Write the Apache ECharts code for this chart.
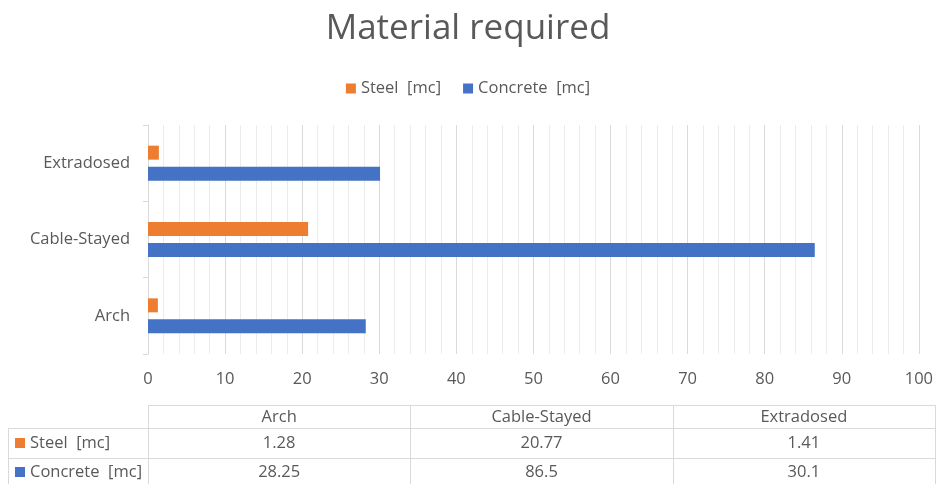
<!DOCTYPE html>
<html>
<head>
<meta charset="utf-8">
<script src="https://cdn.jsdelivr.net/npm/echarts@6/dist/echarts.min.js"></script>
<style>
  html, body { margin: 0; padding: 0; background: #fff; }
  #main { width: 936px; height: 484px; }
</style>
</head>
<body>
<div id="main"></div>
<script>
// data
var categories = ['Arch', 'Cable-Stayed', 'Extradosed'];
var steel = [1.28, 20.77, 1.41];
var concrete = [28.25, 86.5, 30.1];
var seriesNames = ['Steel  [mc]', 'Concrete  [mc]'];
var colors = ['#ED7D31', '#4472C4'];

var font = '"Open Sans", "Noto Sans", sans-serif';
var grey = '#595959';
var lineGrey = '#d9d9d9';

// data table under the chart (graphic elements)
var tblLeft = 148, tblRight = 935, labelLeft = 8;
var rowTops = [405, 428, 458, 488];
var colW = (tblRight - tblLeft) / categories.length;
var rows = [steel, concrete];
var tblFont = '16.5px ' + font;

var table = [];
// header row box
table.push({ type: 'rect', shape: { x: tblLeft + 0.5, y: rowTops[0] + 0.5, width: tblRight - tblLeft, height: rowTops[1] - rowTops[0] },
  style: { fill: null, stroke: lineGrey, lineWidth: 1 } });
// data rows boxes
for (var r = 0; r < rows.length; r++) {
  table.push({ type: 'rect', shape: { x: labelLeft + 0.5, y: rowTops[r + 1] + 0.5, width: tblRight - labelLeft, height: rowTops[r + 2] - rowTops[r + 1] },
    style: { fill: null, stroke: lineGrey, lineWidth: 1 } });
}
// column separators
for (var c = 0; c <= categories.length; c++) {
  var x = Math.round(tblLeft + c * colW) + 0.5;
  table.push({ type: 'line', shape: { x1: x, y1: rowTops[0], x2: x, y2: rowTops[3] },
    style: { stroke: lineGrey, lineWidth: 1 } });
}
table.push({ type: 'line', shape: { x1: labelLeft + 0.5, y1: rowTops[1], x2: labelLeft + 0.5, y2: rowTops[3] },
  style: { stroke: lineGrey, lineWidth: 1 } });
// header texts
categories.forEach(function (cat, i) {
  table.push({ type: 'text', x: tblLeft + (i + 0.5) * colW, y: (rowTops[0] + rowTops[1]) / 2 + 1,
    style: { text: cat, fill: grey, font: tblFont, textAlign: 'center', textVerticalAlign: 'middle' } });
});
// row labels + values
rows.forEach(function (vals, r) {
  var cy = (rowTops[r + 1] + rowTops[r + 2]) / 2 - (r === 1 ? 1 : 0);
  table.push({ type: 'rect', shape: { x: 15, y: cy - 5, width: 10, height: 10 }, style: { fill: colors[r] } });
  table.push({ type: 'text', x: 30, y: cy, style: { text: seriesNames[r], fill: grey, font: tblFont, textVerticalAlign: 'middle' } });
  vals.forEach(function (v, i) {
    table.push({ type: 'text', x: tblLeft + (i + 0.5) * colW, y: cy,
      style: { text: String(v), fill: grey, font: tblFont, textAlign: 'center', textVerticalAlign: 'middle' } });
  });
});

var chart = echarts.init(document.getElementById('main'));
chart.setOption({
  animation: false,
  title: {
    text: 'Material required',
    left: 'center',
    top: 7,
    textStyle: { color: grey, fontSize: 35, fontWeight: 'normal', fontFamily: font }
  },
  legend: {
    data: seriesNames,
    top: 75,
    left: 'center',
    itemWidth: 10,
    itemHeight: 10,
    itemGap: 22,
    icon: 'rect',
    textStyle: { color: grey, fontSize: 16.5, fontFamily: font }
  },
  grid: { left: 148, right: 15, top: 125, bottom: 130, containLabel: false },
  xAxis: {
    type: 'value',
    min: 0,
    max: 100,
    interval: 10,
    axisLine: { show: false },
    axisTick: { show: false },
    axisLabel: { color: grey, fontSize: 16.5, fontFamily: font, margin: 17 },
    splitLine: { show: true, lineStyle: { color: lineGrey, width: 1 } },
    minorTick: { show: false, splitNumber: 5 },
    minorSplitLine: { show: true, lineStyle: { color: '#ececec', width: 1 } }
  },
  yAxis: {
    type: 'category',
    data: categories,
    axisLine: { show: true, lineStyle: { color: lineGrey } },
    axisTick: { show: true, length: 5, lineStyle: { color: lineGrey } },
    axisLabel: { color: grey, fontSize: 16.5, fontFamily: font, margin: 18 }
  },
  series: [
    { name: seriesNames[0], type: 'bar', data: steel, barWidth: 14, barGap: '50%', itemStyle: { color: colors[0] } },
    { name: seriesNames[1], type: 'bar', data: concrete, barWidth: 14, barGap: '50%', itemStyle: { color: colors[1] } }
  ],
  graphic: table
});
</script>
</body>
</html>
